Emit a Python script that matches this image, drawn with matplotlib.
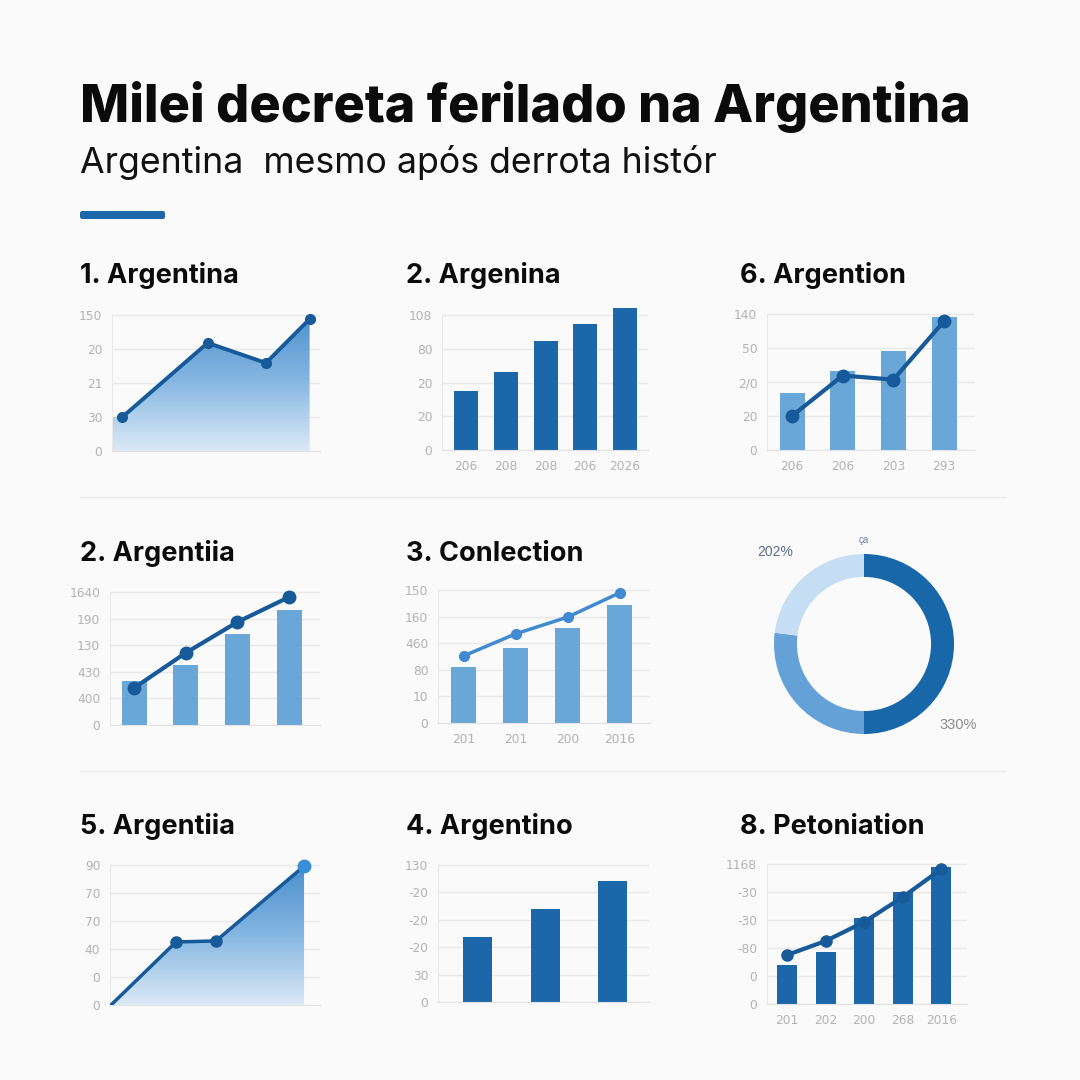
import numpy as np
import matplotlib
matplotlib.use('Agg')
import matplotlib.pyplot as plt
from matplotlib.colors import LinearSegmentedColormap
from matplotlib.patches import Polygon, FancyBboxPatch
from matplotlib.lines import Line2D

W = H = 1080
BG = '#fafafa'
DARK = '#1b67a9'
LINE = '#175a99'
LIGHT_BAR = '#6aa7d9'
TICK = '#b3b3b3'
GRID = '#e9e9e9'

title = 'Milei decreta ferilado na Argentina'
subtitle = 'Argentina  mesmo após derrota histór'

# panel headers
headers = ['1. Argentina', '2. Argenina', '6. Argention',
           '2. Argentiia', '3. Conlection', '',
           '5. Argentiia', '4. Argentino', '8. Petoniation']

# 1. area chart
p1_x = [0.5, 4.6, 7.4, 9.5]
p1_y = [1.0, 3.18, 2.59, 3.88]
p1_ylab = ['150', '20', '21', '30', '0']

# 2. bars
p2_cat = ['206', '208', '208', '206', '2026']
p2_val = [1.76, 2.31, 3.23, 3.73, 4.2]
p2_ylab = ['108', '80', '20', '20', '0']

# 6. bars + line
p3_cat = ['206', '206', '203', '293']
p3_bar = [1.69, 2.31, 2.9, 3.91]
p3_line = [1.0, 2.19, 2.07, 3.79]
p3_ylab = ['140', '50', '2/0', '20', '0']

# 2. bars + line (row 2)
p4_bar = [1.65, 2.26, 3.42, 4.32]
p4_line = [1.39, 2.71, 3.87, 4.81]
p4_ylab = ['1640', '190', '130', '430', '400', '0']

# 3. bars + line
p5_cat = ['201', '201', '200', '2016']
p5_bar = [2.1, 2.82, 3.57, 4.44]
p5_line = [2.52, 3.35, 3.98, 4.89]
p5_ylab = ['150', '160', '460', '80', '10', '0']

# donut
donut_vals = [50, 27, 23]
donut_cols = ['#1867a8', '#63a1d7', '#c6def3']

# 5. area chart
p7_x = [0.05, 3.14, 5.05, 9.24]
p7_y = [0.0, 2.25, 2.29, 4.96]
p7_ylab = ['90', '70', '70', '40', '0', '0']

# 4. bars
p8_val = [2.36, 3.4, 4.42]
p8_ylab = ['130', '-20', '-20', '-20', '30', '0']

# 8. bars + line
p9_cat = ['201', '202', '200', '268', '2016']
p9_bar = [1.39, 1.86, 3.07, 4.0, 4.89]
p9_line = [1.75, 2.25, 2.93, 3.82, 4.82]
p9_ylab = ['1168', '-30', '-30', '-80', '0', '0']


def rect(l, t, r, b):
    return [l / W, 1 - b / H, (r - l) / W, (b - t) / H]


def grid_axes(left, right, zero, step, labels, extra=0.35):
    n = len(labels)
    top = zero - (n - 1 + extra) * step
    ax = fig.add_axes(rect(left, top, right, zero))
    ax.set_facecolor('none')
    ax.set_ylim(0, n - 1 + extra)
    ax.set_yticks(range(n))
    ax.set_yticklabels(labels[::-1])
    ax.yaxis.grid(True, color=GRID, lw=1)
    ax.set_axisbelow(True)
    for s in ['top', 'right']:
        ax.spines[s].set_visible(False)
    ax.spines['left'].set_color(GRID)
    ax.spines['bottom'].set_color('#e2e2e2')
    ax.spines['left'].set_bounds(0, n - 1)
    ax.tick_params(length=0, labelsize=8.8, colors=TICK, pad=7)
    ax.set_xticks([])
    return ax


def cat_xlim(ax, left, right, c0, spacing, k, labels=None):
    ax.set_xlim((left - c0) / spacing, (right - c0) / spacing)
    if labels:
        ax.set_xticks(range(k))
        ax.set_xticklabels(labels)


def gradient_area(ax, x, y, ymax):
    cmap = LinearSegmentedColormap.from_list('g', ['#dbe9f7', '#86b7e2', '#4a8ecd'])
    verts = [(0 if x[0] > 0.2 else x[0], 0), (0, y[0])] + list(zip(x, y)) + [(x[-1], 0)]
    poly = Polygon(verts, closed=True, facecolor='none', edgecolor='none')
    ax.add_patch(poly)
    grad = np.linspace(0, 1, 256).reshape(-1, 1)
    img = ax.imshow(grad, extent=[0, x[-1], 0, ymax], origin='lower', aspect='auto',
                    cmap=cmap, zorder=1)
    img.set_clip_path(poly)


fig = plt.figure(figsize=(10.8, 10.8), dpi=100)
fig.patch.set_facecolor(BG)

fig.text(80 / W, 1 - 122 / H, title, fontsize=37.5, fontweight='heavy',
         family=['Inter', 'DejaVu Sans'], va='baseline', color='#0b0b0b')
fig.text(80 / W, 1 - 173 / H, subtitle, fontsize=25.7,
         family=['Inter', 'DejaVu Sans'], va='baseline', color='#111111')
fig.patches.append(FancyBboxPatch((80 / W, 1 - 219 / H), 85 / W, 8 / H,
                                  boxstyle='round,pad=0,rounding_size=0.002',
                                  transform=fig.transFigure, facecolor=DARK,
                                  edgecolor='none'))
for yy in [497, 771]:
    fig.lines.append(Line2D([80 / W, 1005 / W], [1 - yy / H] * 2,
                            transform=fig.transFigure, color='#ebebeb', lw=1))

hx = [80, 406, 740]
hy = [283, 561, 834]
for i, h in enumerate(headers):
    if h:
        fig.text(hx[i % 3] / W, 1 - hy[i // 3] / H, h, fontsize=19.5, fontweight='bold',
                 family=['Inter', 'DejaVu Sans'], va='baseline', color='#0b0b0b')

# panel 1
ax = grid_axes(112, 320, 451, 34, p1_ylab)
ax.set_xlim(0, 10)
gradient_area(ax, p1_x, p1_y, 4.1)
ax.plot(p1_x, p1_y, color=LINE, lw=2.8, marker='o', ms=7, zorder=3)
ax.set_xlim(0, 10)
ax.set_ylim(0, 4.35)

# panel 2
ax = grid_axes(442, 648, 450, 33.75, p2_ylab)
ax.bar(range(5), p2_val, width=24 / 39.75, color=DARK, zorder=2)
cat_xlim(ax, 442, 648, 466, 39.75, 5, p2_cat)

# panel 3
ax = grid_axes(767, 975, 450, 34, p3_ylab)
ax.bar(range(4), p3_bar, width=25 / 50.7, color=LIGHT_BAR, zorder=2)
ax.plot(range(4), p3_line, color=LINE, lw=3, marker='o', ms=9, zorder=3)
cat_xlim(ax, 767, 975, 792, 50.7, 4, p3_cat)

# panel 4
ax = grid_axes(110, 320, 725, 26.6, p4_ylab)
ax.bar(range(4), p4_bar, width=25 / 51.7, color=LIGHT_BAR, zorder=2)
ax.plot(range(4), p4_line, color=LINE, lw=3, marker='o', ms=9, zorder=3)
cat_xlim(ax, 110, 320, 134, 51.7, 4)

# panel 5
ax = grid_axes(438, 650, 723, 26.6, p5_ylab)
ax.bar(range(4), p5_bar, width=25 / 52, color=LIGHT_BAR, zorder=2)
ax.plot(range(4), p5_line, color='#3f8ad0', lw=2.5, marker='o', ms=7, zorder=3)
cat_xlim(ax, 438, 650, 463.5, 52, 4, p5_cat)

# donut
dax = fig.add_axes(rect(764, 544, 964, 744))
dax.pie(donut_vals, colors=donut_cols, startangle=90, counterclock=False,
        wedgeprops=dict(width=0.255, edgecolor='none'))
dax.set_xlim(-1.111, 1.111)
dax.set_ylim(-1.111, 1.111)
dax.set_aspect('equal')
fig.text(775 / W, 1 - 552 / H, '202%', fontsize=10, color='#5d6c8c',
         ha='center', va='center', family=['Liberation Sans'])
fig.text(958 / W, 1 - 725 / H, '330%', fontsize=10.5, color='#8c8c8c',
         ha='center', va='center', family=['Liberation Sans'])
fig.text(864 / W, 1 - 540 / H, 'ça', fontsize=7, color='#6a80a8',
         ha='center', va='center', family=['Liberation Sans'])

# panel 7
ax = grid_axes(110, 320, 1005, 28, p7_ylab)
ax.set_xlim(0, 10)
gradient_area(ax, p7_x, p7_y, 5.0)
ax.plot(p7_x, p7_y, color=LINE, lw=2.5, zorder=3)
ax.plot(p7_x[1:3], p7_y[1:3], 'o', color=LINE, ms=8, zorder=4)
ax.plot(p7_x[3:], p7_y[3:], 'o', color='#3b8fd6', ms=9, zorder=4)
ax.set_xlim(0, 10)
ax.set_ylim(0, 5.35)

# panel 8
ax = grid_axes(438, 649, 1002, 27.4, p8_ylab)
ax.bar(range(3), p8_val, width=29 / 67.5, color=DARK, zorder=2)
cat_xlim(ax, 438, 649, 477.5, 67.5, 3)

# panel 9
ax = grid_axes(767, 967, 1004, 28, p9_ylab)
ax.bar(range(5), p9_bar, width=20 / 38.6, color=DARK, zorder=2)
ax.plot(range(5), p9_line, color=LINE, lw=3, marker='o', ms=8, zorder=3)
cat_xlim(ax, 767, 967, 787, 38.6, 5, p9_cat)

fig.savefig('out.png', dpi=100, facecolor=BG)
